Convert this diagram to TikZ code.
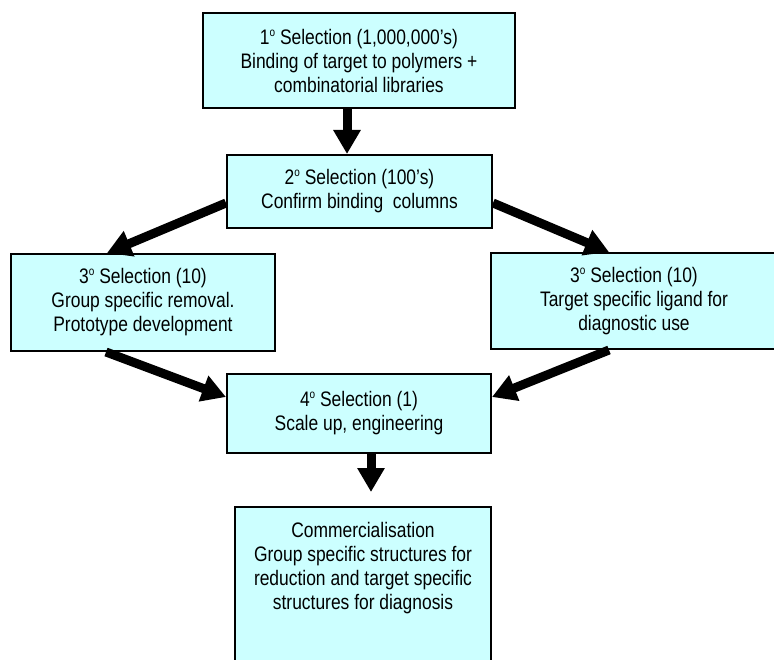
\documentclass[tikz,border=0pt]{standalone}
\usepackage{fontspec}
\setmainfont[FakeStretch=0.83]{Liberation Sans}
\usetikzlibrary{arrows.meta,calc}
\definecolor{boxfill}{RGB}{204,255,255}
\newcommand\ordo{\raisebox{8pt}{\fontsize{12}{12}\selectfont o}}
\begin{document}
\begin{tikzpicture}[x=1pt,y=-1pt,
  box/.style={draw=black, line width=2pt, fill=boxfill, inner sep=0pt, align=center,
    font=\fontsize{21}{24}\selectfont},
  boxtext/.style={inner sep=0pt, align=center, font=\fontsize{21}{24}\selectfont},
  arr/.style={line width=9pt, -{Triangle[length=24pt,width=26pt]}},
]
\useasboundingbox (0,0) rectangle (774,660);
\clip (0,0) rectangle (774,660);

\node[box, minimum width=312pt, minimum height=95pt] (b1) at (359,60.5)
  {1\ordo\ Selection (1,000,000's)\\Binding of target to polymers +\\combinatorial libraries};
\node[box, minimum width=265pt, minimum height=73pt] (b2) at (359.5,191.5)
  {2\ordo\ Selection (100's)\\Confirm binding~ columns};
\node[box, minimum width=264pt, minimum height=97pt] (b3l) at (143,302.5)
  {3\ordo\ Selection (10)\\Group specific removal.\\Prototype development};
\node[box, minimum width=286pt, minimum height=96pt] (b3r) at (634,301)
  {3\ordo\ Selection (10)\\Target specific ligand for\\diagnostic use};
\node[box, minimum width=264pt, minimum height=79pt] (b4) at (359,413.5)
  {4\ordo\ Selection (1)\\Scale up, engineering};
\node[box, minimum width=256pt, minimum height=173pt] (b5) at (363,593.5) {};
\node[boxtext, anchor=north] (b5t) at (363,522)
  {Commercialisation\\Group specific structures for\\reduction and target specific\\structures for diagnosis};

\draw[arr] ([xshift=-12pt]b1.south) -- ([xshift=-12.5pt]b2.north);
\draw[arr] ([yshift=-11.5pt]b2.west) -- ([xshift=97pt]b3l.north west);
\draw[arr] ([yshift=-11.5pt]b2.east) -- ([xshift=119pt]b3r.north west);
\draw[arr] ([xshift=96pt]b3l.south west) -- ([yshift=16.5pt]b4.west);
\draw[arr] ([xshift=119pt]b3r.south west) -- ([yshift=16.5pt]b4.east);
\draw[arr, shorten >=14pt] ([xshift=12pt]b4.south) -- ([xshift=12pt]b4.south |- b5.north);
\end{tikzpicture}
\end{document}
